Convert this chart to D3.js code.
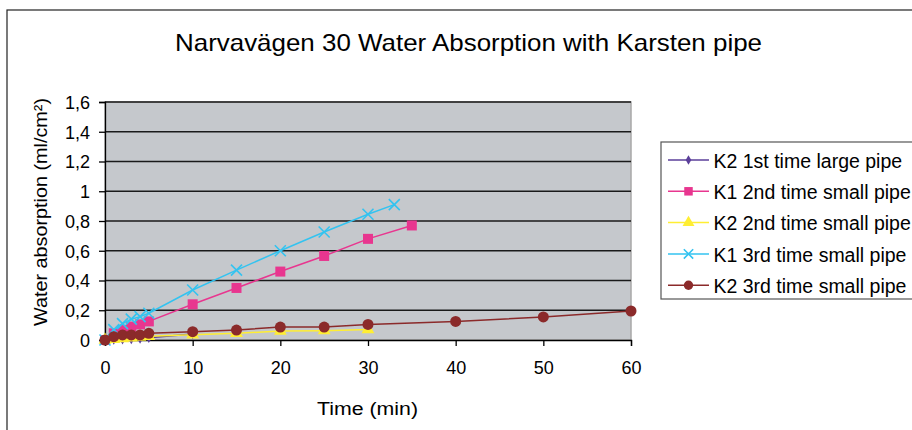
<!DOCTYPE html>
<html><head><meta charset="utf-8">
<script src="https://cdn.jsdelivr.net/npm/d3@7"></script>
<style>body{margin:0;background:#fff;} svg{display:block;font-family:"Liberation Sans",Arial,sans-serif;}</style>
</head><body>
<svg id="c" width="912" height="430"></svg>
<script>
const title = "Narvavägen 30 Water Absorption with Karsten pipe";
const xTitle = "Time (min)";
const yTitle = "Water absorption (ml/cm²)";
const xTicks = [0,10,20,30,40,50,60];
const yTicks = [0,0.2,0.4,0.6,0.8,1,1.2,1.4,1.6];

const seriesNames = ["K2 1st time large pipe","K1 2nd time small pipe","K2 2nd time small pipe","K1 3rd time small pipe","K2 3rd time small pipe"];
const seriesColors = ["#5b3f9a","#e8368f","#ffee33","#33c3f0","#8b2a2a"];
const seriesMarkers = ["diamond","square","triangle","cross","circle"];

const timesK2first = [0,1,2,3,4,5,10];
const valuesK2first = [0,0.003,0.005,0.007,0.01,0.015,0.04];
const timesK1second = [0,1,2,3,4,5,10,15,20,25,30,35];
const valuesK1second = [0,0.045,0.067,0.09,0.105,0.125,0.24,0.35,0.46,0.565,0.68,0.77];
const timesK2second = [0,1,2,3,4,5,10,15,20,25,30];
const valuesK2second = [0,0.005,0.01,0.015,0.02,0.025,0.035,0.045,0.06,0.063,0.07];
const timesK1third = [0,1,2,3,4,5,10,15,20,25,30,33];
const valuesK1third = [0,0.07,0.11,0.14,0.157,0.18,0.336,0.47,0.6,0.726,0.845,0.91];
const timesK2third = [0,1,2,3,4,5,10,15,20,25,30,40,50,60];
const valuesK2third = [0,0.022,0.034,0.034,0.034,0.045,0.056,0.067,0.087,0.087,0.105,0.125,0.155,0.195];

const allTimes = [timesK2first,timesK1second,timesK2second,timesK1third,timesK2third];
const allValues = [valuesK2first,valuesK1second,valuesK2second,valuesK1third,valuesK2third];

const svg = d3.select("#c");
const L=105,R=631,T=102,B=340;
const x = d3.scaleLinear().domain([0,60]).range([L,R]);
const y = d3.scaleLinear().domain([0,1.6]).range([B,T]);

// outer frame
svg.append("rect").attr("x",7).attr("y",10).attr("width",1000).attr("height",1000)
  .attr("fill","none").attr("stroke","#222").attr("stroke-width",1.2);

svg.append("text").attr("x",468.5).attr("y",51).attr("text-anchor","middle")
  .attr("font-size",24).attr("textLength",587).attr("lengthAdjust","spacingAndGlyphs")
  .attr("fill","#000").text(title);

// plot area
svg.append("rect").attr("x",L).attr("y",T).attr("width",R-L).attr("height",B-T)
  .attr("fill","#c5c8cc").attr("stroke","#a8a8a8").attr("stroke-width",1.5);

// gridlines
svg.append("g").selectAll("line").data(yTicks.filter(d=>d>0)).join("line")
  .attr("x1",L).attr("x2",R).attr("y1",d=>y(d)).attr("y2",d=>y(d))
  .attr("stroke","#1a1a1a").attr("stroke-width",1.3);

// axes
const fmt = d => String(d).replace(".",",");
const yAxis = svg.append("g").attr("transform",`translate(${L},0)`)
  .call(d3.axisLeft(y).tickValues(yTicks).tickFormat(fmt).tickSize(6).tickPadding(9));
const xAxis = svg.append("g").attr("transform",`translate(0,${B})`)
  .call(d3.axisBottom(x).tickValues(xTicks).tickFormat(d=>d).tickSize(6).tickPadding(15));
[yAxis,xAxis].forEach(a=>{
  a.select(".domain").attr("stroke","#000").attr("stroke-width",1.3);
  a.selectAll(".tick line").attr("stroke","#000").attr("stroke-width",1.3);
  a.selectAll(".tick text").attr("font-size",18).attr("fill","#000").attr("font-family","Liberation Sans, Arial, sans-serif");
});
yAxis.selectAll(".tick text").attr("dy","0.36em");

svg.append("text").attr("x",367.5).attr("y",415).attr("text-anchor","middle")
  .attr("font-size",18).attr("textLength",101).attr("lengthAdjust","spacingAndGlyphs")
  .attr("fill","#000").text(xTitle);
svg.append("text").attr("transform",`translate(47,212) rotate(-90)`).attr("text-anchor","middle")
  .attr("font-size",18.5).attr("textLength",228).attr("lengthAdjust","spacingAndGlyphs")
  .attr("fill","#000").text(yTitle);

function marker(g, type, color, cx, cy, s){
  if(type==="diamond"){
    g.append("path").attr("d",d3.symbol(d3.symbolDiamond,32*s)()).attr("transform",`translate(${cx},${cy})`).attr("fill",color);
  } else if(type==="square"){
    const h=5*s;
    g.append("rect").attr("x",cx-h).attr("y",cy-h).attr("width",2*h).attr("height",2*h).attr("fill",color);
  } else if(type==="triangle"){
    g.append("path").attr("d",d3.symbol(d3.symbolTriangle,72*s)()).attr("transform",`translate(${cx},${cy})`).attr("fill",color);
  } else if(type==="cross"){
    const h=5.5*s;
    g.append("path").attr("d",`M${cx-h},${cy-h}L${cx+h},${cy+h}M${cx-h},${cy+h}L${cx+h},${cy-h}`)
      .attr("stroke",color).attr("stroke-width",1.6).attr("fill","none");
  } else {
    g.append("circle").attr("cx",cx).attr("cy",cy).attr("r",5.5*s).attr("fill",color);
  }
}

const line = d3.line();
seriesNames.forEach((name,i)=>{
  const pts = allTimes[i].map((t,j)=>[x(t),y(allValues[i][j])]);
  const g = svg.append("g");
  g.append("path").attr("d",line(pts)).attr("fill","none").attr("stroke",seriesColors[i]).attr("stroke-width",1.5);
  pts.forEach(p=>marker(g,seriesMarkers[i],seriesColors[i],p[0],p[1],1));
});

// legend
const lg = svg.append("g");
lg.append("rect").attr("x",661).attr("y",142).attr("width",300).attr("height",157)
  .attr("fill","#fff").attr("stroke","#555").attr("stroke-width",1.2);
seriesNames.forEach((name,i)=>{
  const yy = 160 + i*31.3;
  lg.append("line").attr("x1",668).attr("x2",709).attr("y1",yy).attr("y2",yy).attr("stroke",seriesColors[i]).attr("stroke-width",1.5);
  marker(lg,seriesMarkers[i],seriesColors[i],688.5,yy,0.85);
  lg.append("text").attr("x",713.5).attr("y",yy).attr("dy","0.4em").attr("font-size",19.5).attr("fill","#000").text(name);
});
</script>
</body></html>
